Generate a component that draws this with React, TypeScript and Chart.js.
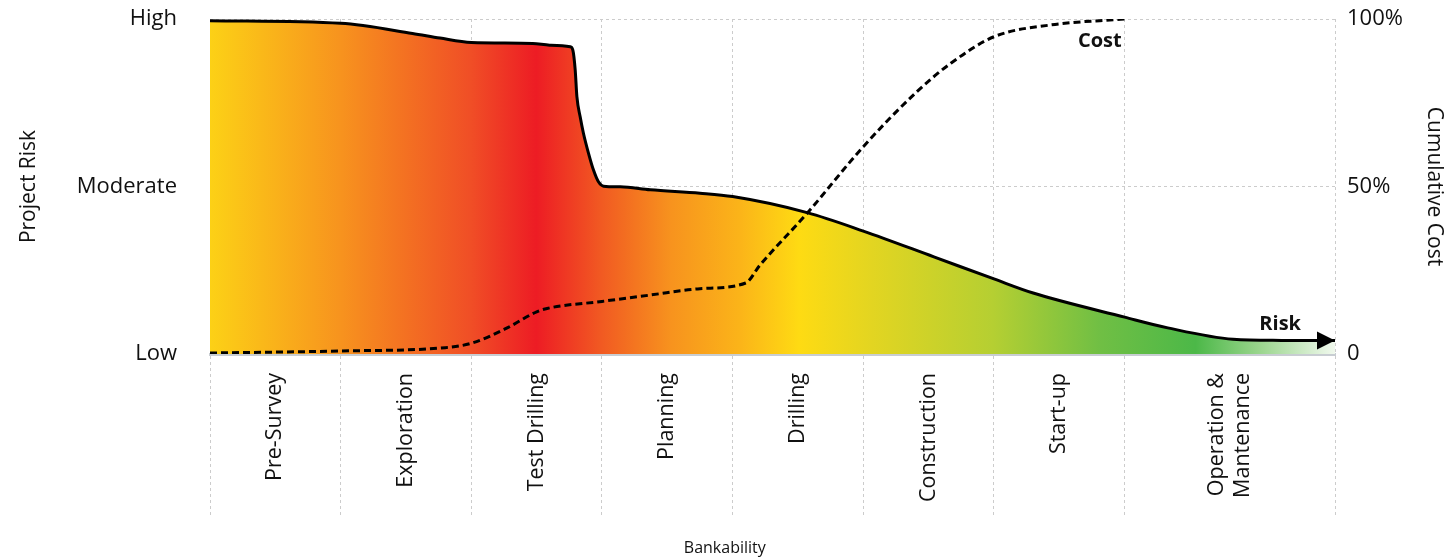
import React, { useEffect, useRef } from 'react';
import { Chart, registerables } from 'chart.js';

Chart.register(...registerables);

// ---- data ----
const phases: (string | string[])[] = [
  'Pre-Survey',
  'Exploration',
  'Test Drilling',
  'Planning',
  'Drilling',
  'Construction',
  'Start-up',
  ['Operation &', 'Mantenance'],
];
const phaseEdges = [0, 1, 2, 3, 4, 5, 6, 7, 8.61];

const tickValues = [0, 50, 100];
const riskTickLabels = ['Low', 'Moderate', 'High'];
const costTickLabels = ['0', '50%', '100%'];

const riskX = [0, 1.0, 1.55, 1.76, 2.0, 2.47, 2.6, 2.757, 2.777, 2.795, 2.808, 2.833, 2.858, 2.897, 2.935, 2.973, 3.012, 3.14, 3.37, 3.75, 4.0, 4.57, 5.0, 5.54, 6.0, 6.3, 7.0, 7.33, 7.83, 8.2, 8.61];
const riskY = [99.5, 98.7, 95.7, 94.3, 93.0, 92.7, 92.2, 91.7, 90.7, 84.8, 76.8, 70.8, 65.9, 59.9, 54.9, 51.4, 50.1, 49.9, 49.0, 48.0, 47.0, 42.2, 36.7, 29.0, 22.4, 18.2, 11.0, 7.8, 4.4, 4.05, 4.0];

const costX = [0, 1.0, 1.8, 2.0, 2.27, 2.5, 2.58, 3.0, 3.37, 3.75, 4.1, 4.21, 4.57, 5.0, 5.41, 5.67, 6.0, 6.43, 7.0];
const costY = [0.3, 0.9, 1.9, 3.2, 7.7, 12.6, 13.6, 15.7, 17.6, 19.5, 21.2, 26.6, 42.0, 61.9, 78.3, 86.8, 94.7, 98.2, 100];

const FONT = '"Open Sans", sans-serif';
const TEXT = '#111111';
const GRID = '#cccccc';
const CAT_SIZE = 21.5;

export default function App() {
  const ref = useRef<HTMLCanvasElement | null>(null);

  useEffect(() => {
    if (!ref.current) return;
    const mids = phaseEdges.slice(0, -1).map((e, i) => (e + phaseEdges[i + 1]) / 2);
    const near = (a: number, b: number) => Math.abs(a - b) < 1e-6;
    const isEdge = (v: any) => typeof v === 'number' && phaseEdges.some((e) => near(e, v));
    const edgeColor = (c: any) => (c && c.tick && isEdge(c.tick.value) ? GRID : 'rgba(0,0,0,0)');
    const xMax = phaseEdges[phaseEdges.length - 1];
    // label tick positions: multi-line labels are shifted so the block is centred on the phase
    let labelPos: number[] = mids.slice();

    const gradientFill = (ctx: any) => {
      const chart = ctx.chart;
      const area = chart.chartArea;
      if (!area) return 'rgba(0,0,0,0)';
      const g = chart.ctx.createLinearGradient(area.left, 0, area.right, 0);
      g.addColorStop(0.0, '#fcd116');
      g.addColorStop(0.116, '#f7931e');
      g.addColorStop(0.232, '#f04e26');
      g.addColorStop(0.29, '#ed1c24');
      g.addColorStop(0.348, '#f15a22');
      g.addColorStop(0.41, '#f7931e');
      g.addColorStop(0.471, '#fbb419');
      g.addColorStop(0.524, '#fedb13');
      g.addColorStop(0.587, '#e3d521');
      g.addColorStop(0.696, '#b5cf32');
      g.addColorStop(0.791, '#70bf44');
      g.addColorStop(0.876, '#4cb848');
      g.addColorStop(0.933, '#9ad58d');
      g.addColorStop(1.0, '#f1f9ee');
      return g;
    };

    const overlay = {
      id: 'overlay',
      afterDatasetsDraw(chart: any) {
        const meta = chart.getDatasetMeta(1);
        const pts = meta.data;
        const last = pts[pts.length - 1];
        if (!last) return;
        const c = chart.ctx;
        c.save();
        c.fillStyle = '#000';
        c.beginPath();
        c.moveTo(last.x, last.y);
        c.lineTo(last.x - 18, last.y - 9);
        c.lineTo(last.x - 18, last.y + 9);
        c.closePath();
        c.fill();
        c.restore();
      },
      afterDraw(chart: any) {
        const c = chart.ctx;
        const xs = chart.scales.x;
        const ys = chart.scales.y1;
        const riskMeta = chart.getDatasetMeta(1);
        const rLast = riskMeta.data[riskMeta.data.length - 1];
        c.save();
        c.fillStyle = TEXT;
        c.font = `bold 20px ${FONT}`;
        c.textBaseline = 'alphabetic';
        c.textAlign = 'right';
        c.fillText('Cost', xs.getPixelForValue(costX[costX.length - 1]) - 3, ys.getPixelForValue(100) + 28);
        if (rLast) {
          c.fillText('Risk', rLast.x - 34, rLast.y - 11);
        }
        c.font = `16px ${FONT}`;
        c.textAlign = 'center';
        c.textBaseline = 'middle';
        c.fillText('Bankability', xs.getPixelForValue(3.94), chart.height - 12);
        c.restore();
      },
    };

    const chart = new Chart(ref.current, {
      type: 'line',
      data: {
        datasets: [
          {
            label: 'Cost',
            data: costX.map((x, i) => ({ x, y: costY[i] })),
            xAxisID: 'x',
            yAxisID: 'y1',
            borderColor: '#000',
            borderWidth: 3,
            borderDash: [7, 4],
            fill: false,
            pointRadius: 0,
            cubicInterpolationMode: 'monotone',
            order: 0,
          },
          {
            label: 'Risk',
            data: riskX.map((x, i) => ({ x, y: riskY[i] })),
            xAxisID: 'x',
            yAxisID: 'y',
            borderColor: '#000',
            borderWidth: 3,
            backgroundColor: gradientFill,
            fill: 'origin',
            pointRadius: 0,
            cubicInterpolationMode: 'monotone',
            order: 1,
          },
        ],
      },
      options: {
        responsive: true,
        maintainAspectRatio: false,
        animation: false,
        events: [],
        layout: { padding: { top: 19, left: 0, right: 0, bottom: 0 } },
        plugins: {
          legend: { display: false },
          tooltip: { enabled: false },
        },
        scales: {
          x: {
            type: 'linear',
            position: 'bottom',
            min: 0,
            max: xMax,
            z: 1,
            afterBuildTicks: (s: any) => {
              const pxPerUnit = s.width > 0 ? s.width / xMax : 130.6;
              const lh = CAT_SIZE * 1.2;
              labelPos = mids.map((m, i) => {
                const p = phases[i];
                const n = Array.isArray(p) ? p.length : 1;
                return m - ((n - 1) * lh) / 2 / pxPerUnit;
              });
              s.ticks = [...phaseEdges, ...labelPos].sort((a, b) => a - b).map((v) => ({ value: v }));
            },
            afterFit: (s: any) => {
              s.height = 206;
            },
            grid: {
              color: edgeColor,
              tickColor: edgeColor,
              lineWidth: 1,
              tickWidth: 1,
              drawTicks: true,
              tickLength: 164,
              tickBorderDash: [3, 3],
            },
            border: { display: true, color: '#c8cdd2', width: 3, dash: [3, 3] },
            ticks: {
              autoSkip: false,
              minRotation: 90,
              maxRotation: 90,
              padding: -145,
              color: TEXT,
              font: { family: FONT, size: CAT_SIZE },
              callback: (v: any) => {
                const i = labelPos.findIndex((m) => near(m, Number(v)));
                return (i >= 0 ? phases[i] : '') as any;
              },
            },
          },
          y: {
            type: 'linear',
            position: 'left',
            min: 0,
            max: 100,
            z: 1,
            afterBuildTicks: (s: any) => {
              s.ticks = tickValues.map((v) => ({ value: v }));
            },
            afterFit: (s: any) => {
              s.width = 210;
              s.paddingTop = 0;
              s.paddingBottom = 0;
            },
            grid: {
              color: (c: any) => (c && c.tick && c.tick.value === 0 ? 'rgba(0,0,0,0)' : GRID),
              drawTicks: false,
              lineWidth: 1,
            },
            border: { display: false, dash: [3, 3] },
            ticks: {
              padding: 33,
              color: TEXT,
              font: { family: FONT, size: 22 },
              callback: (v: any) => riskTickLabels[tickValues.indexOf(Number(v))],
            },
            title: {
              display: true,
              text: 'Project Risk',
              color: TEXT,
              font: { family: FONT, size: 21 },
              padding: { top: 16, bottom: 0 },
            },
          },
          y1: {
            type: 'linear',
            position: 'right',
            min: 0,
            max: 100,
            afterBuildTicks: (s: any) => {
              s.ticks = tickValues.map((v) => ({ value: v }));
            },
            afterFit: (s: any) => {
              s.width = 112;
              s.paddingTop = 0;
              s.paddingBottom = 0;
            },
            grid: { display: false, drawTicks: false },
            border: { display: false },
            ticks: {
              padding: 12,
              color: TEXT,
              font: { family: FONT, size: 22 },
              callback: (v: any) => costTickLabels[tickValues.indexOf(Number(v))],
            },
            title: {
              display: true,
              text: 'Cumulative Cost',
              color: TEXT,
              font: { family: FONT, size: 21 },
              padding: { top: 0, bottom: 0 },
            },
          },
        },
      } as any,
      plugins: [overlay],
    });
    return () => chart.destroy();
  }, []);

  return (
    <div style={{ position: 'fixed', left: 0, top: 0, width: 1447, height: 560, background: '#fff' }}>
      <canvas ref={ref} />
    </div>
  );
}
